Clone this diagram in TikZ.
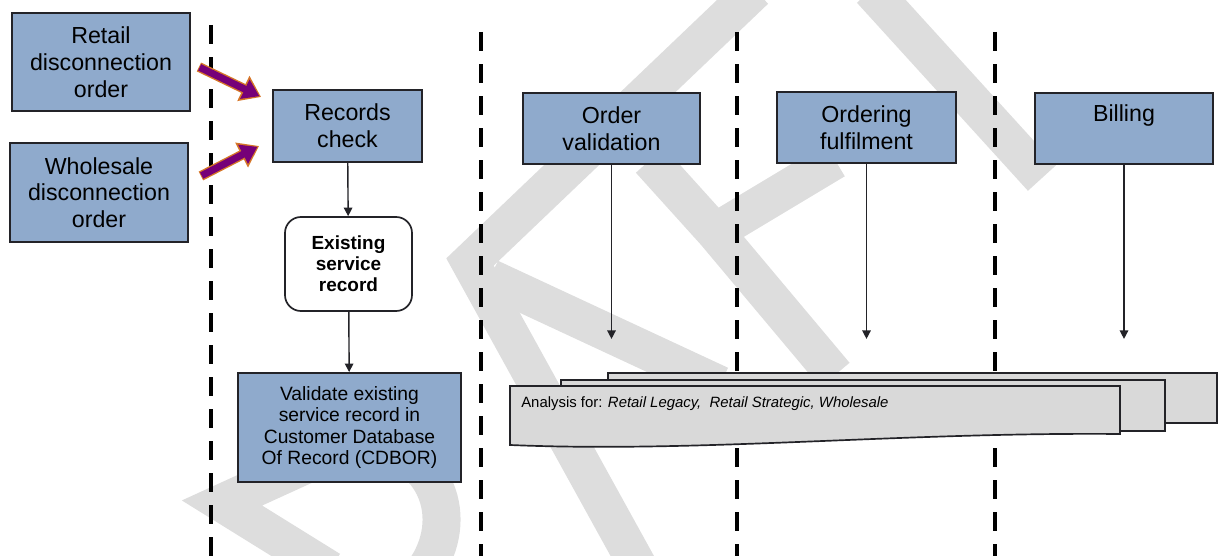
\documentclass[tikz,border=0pt]{standalone}
\usepackage{fontspec}
\setmainfont{Liberation Sans}
\usetikzlibrary{arrows.meta}

\definecolor{boxblue}{RGB}{143,170,204}
\definecolor{sheetgrey}{RGB}{217,217,217}
\definecolor{markgrey}{RGB}{221,221,221}
\definecolor{inkline}{RGB}{35,35,40}
\definecolor{fatpurple}{RGB}{118,0,120}
\definecolor{fatrim}{RGB}{214,118,40}

\begin{document}
\begin{tikzpicture}[x=0.025cm, y=-0.025cm, >={Triangle[length=6pt,width=6pt]},
    stage/.style={draw=inkline, line width=1.3pt, fill=boxblue, align=center,
      inner sep=0pt, font=\fontsize{16.5}{19}\selectfont},
    decision/.style={draw=inkline, line width=1.2pt, fill=white, align=center,
      rounded corners=0.4cm, inner sep=0pt, font=\bfseries\fontsize{13.5}{15}\selectfont},
    lane/.style={line width=2.8pt, dash pattern=on 0.475cm off 0.325cm},
    flow/.style={->, line width=1pt, draw=inkline},
    sheetbox/.style={draw=inkline, line width=1.2pt, fill=sheetgrey},
    wmark/.style={draw=markgrey, line width=0.95cm}]
  \useasboundingbox (0,0) rectangle (1221,556);

  % watermark
  \draw[wmark] (755,-10) -- (470,262) -- (640,570);
  \draw[wmark] (490,278) -- (720,385);
  \draw[wmark] (871,-10) -- (1042,178);
  \draw[wmark] (650,160) -- (715,232) -- (835,375);
  \draw[wmark] (715,232) -- (835,160);
  \draw[wmark] (330,570) -- (222,503) -- (360,440)
    .. controls (440,450) and (460,520) .. (425,570);

  % swim lanes
  \draw[lane] (211,25) -- (211,556);
  \foreach \x in {481,737,995}
    \draw[lane] (\x,32) -- (\x,556);

  \node[stage, minimum width=4.45cm, minimum height=2.45cm] (retail) at (101,62)
    {Retail\\disconnection\\order};
  \node[stage, minimum width=4.45cm, minimum height=2.475cm] (wholesale) at (99,192.5)
    {Wholesale\\disconnection\\order};
  \node[stage, minimum width=3.725cm, minimum height=1.8cm] (records) at (347.5,126)
    {Records\\check};
  \node[decision, minimum width=3.175cm, minimum height=2.35cm] (existing) at (348.5,264)
    {Existing\\service\\record};
  \node[stage, minimum width=5.575cm, minimum height=2.725cm,
    font=\fontsize{13.7}{15.4}\selectfont] (validate) at (349.5,427.5)
    {Validate existing\\service record in\\Customer Database\\Of Record (CDBOR)};
  \node[stage, minimum width=4.425cm, minimum height=1.775cm] (order) at (611.5,128.5)
    {Order\\validation};
  \node[stage, minimum width=4.475cm, minimum height=1.775cm] (ordering) at (866.5,127.5)
    {Ordering\\fulfilment};
  \node[stage, minimum width=4.45cm, minimum height=1.775cm] (billing) at (1124,128.5)
    {Billing\\\phantom{g}};

  % inputs into records check
  \foreach \from/\fs/\ts in {retail/{(8,5)}/{(-11,-29)}, wholesale/{(12,-16.5)}/{(-13,20)}} {
    \draw[line width=7pt, fatrim, -{Triangle[length=14pt,width=19pt]}]
      ([shift=\fs]\from.east) -- ([shift=\ts]records.west);
    \draw[line width=5pt, fatpurple, shorten >=1.3pt, shorten <=0.6pt,
      -{Triangle[length=11.5pt,width=14.5pt]}]
      ([shift=\fs]\from.east) -- ([shift=\ts]records.west);
  }

  \draw[flow] (records) -- (existing);
  \draw[flow] (existing) -- (validate);

  % analysis sheets
  \draw[sheetbox] (608,373) rectangle (1217,423);
  \draw[sheetbox] (561,380) rectangle (1165,431);
  \draw[sheetbox] (510,386) -- (1120,386) -- (1120,434)
    .. controls (900,432) and (700,453) .. (510,445) -- cycle;
  \node[anchor=west, inner sep=0pt, font=\fontsize{10.6}{12}\selectfont] (analysis) at (521,404)
    {Analysis for: \textit{Retail Legacy,\ \ Retail Strategic, Wholesale}};

  \path (order.south) ++(0,174) coordinate (ordertip);
  \path (ordering.south) ++(0,175) coordinate (orderingtip);
  \path (billing.south) ++(0,174) coordinate (billingtip);
  \draw[flow] (order) -- (ordertip);
  \draw[flow] (ordering) -- (orderingtip);
  \draw[flow] (billing) -- (billingtip);
\end{tikzpicture}
\end{document}
